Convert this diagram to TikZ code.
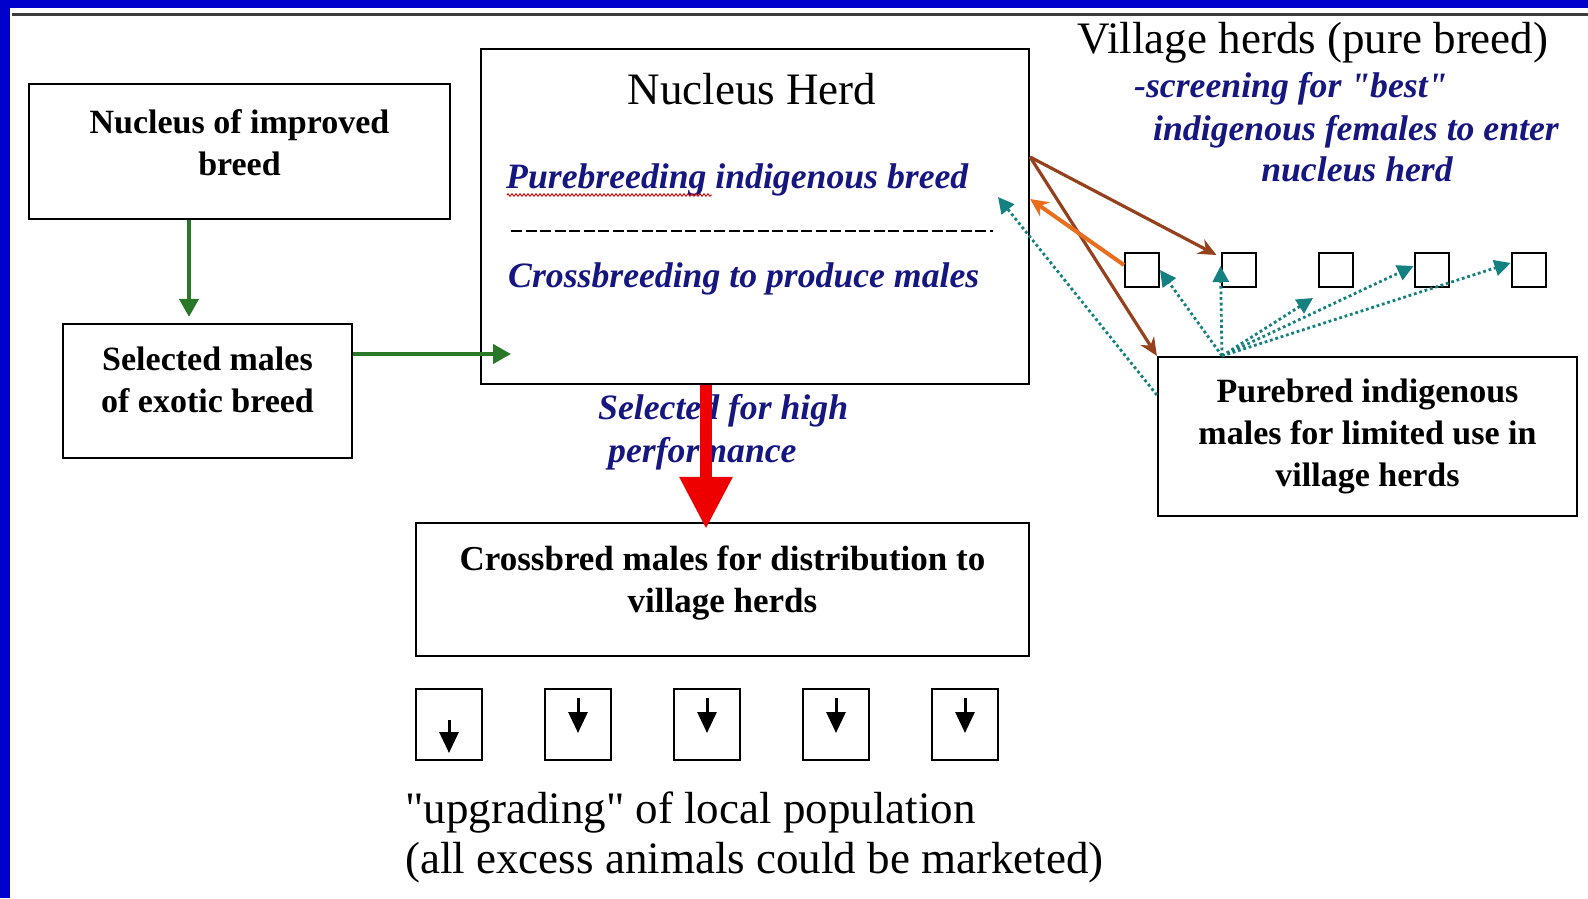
\documentclass[tikz,border=0pt]{standalone}
\usepackage{fontspec}
\setmainfont{Liberation Serif}[Ligatures=TeXOff]
\usetikzlibrary{arrows.meta,decorations.pathmorphing,calc}
\definecolor{frameblue}{RGB}{0,0,204}
\definecolor{navy}{RGB}{22,22,128}
\definecolor{dgreen}{RGB}{40,120,40}
\definecolor{redarrow}{RGB}{238,0,0}
\definecolor{brownarrow}{RGB}{150,65,30}
\definecolor{orangearrow}{RGB}{232,110,30}
\definecolor{tealarrow}{RGB}{20,128,128}
\definecolor{topline}{RGB}{60,60,60}
\newcommand\dgBoxFont{\bfseries\fontsize{34}{42}\selectfont}
\newcommand\dgHeadFont{\fontsize{45}{50}\selectfont}
\newcommand\dgBlueFont{\bfseries\itshape\fontsize{35.7}{42}\selectfont\color{navy}}
\begin{document}
\begin{tikzpicture}[x=1pt,y=-1pt,
  box/.style={draw=black, line width=2.2pt, inner sep=0pt, align=center, font=\dgBoxFont},
  sq/.style={draw=black, line width=2pt, minimum width=34pt, minimum height=34pt, inner sep=0pt},
  pen/.style={draw=black, line width=2.2pt, minimum width=66pt, minimum height=71pt, inner sep=0pt},
  head/.style={font=\dgHeadFont, inner sep=0pt, anchor=base},
  bluetext/.style={font=\dgBlueFont, inner sep=0pt, anchor=base west},
  garrow/.style={draw=dgreen, line width=4pt, -{Triangle[width=19pt,length=18pt]}},
  rarrow/.style={draw=redarrow, line width=12pt, -{Triangle[width=50pt,length=52pt]}},
  brarrow/.style={draw=brownarrow, line width=3.2pt, -{Stealth[width=16pt,length=18pt]}},
  orarrow/.style={draw=orangearrow, line width=4pt, -{Stealth[width=17pt,length=18pt]}},
  tarrow/.style={draw=tealarrow, line width=2.8pt, dash pattern=on 2.8pt off 2.8pt, -{Triangle[width=16pt,length=16pt]}},
  darrow/.style={draw=black, line width=3pt, -{Triangle[width=19pt,length=21pt]}},
]
\useasboundingbox (0,0) rectangle (1588,898);
\fill[white] (0,0) rectangle (1588,898);
% frame
\fill[frameblue] (0,0) rectangle (1588,8);
\fill[frameblue] (0,0) rectangle (10,898);
\draw[topline, line width=3pt] (12,14) -- (1588,14);

% boxes
\node[box, minimum width=421pt, minimum height=135pt, text depth=18pt] (b1) at (239.5,151.5) {Nucleus of improved\\breed};
\node[box, minimum width=289pt, minimum height=134pt, text depth=23pt] (sel) at (207.5,391) {Selected males\\of exotic breed};
\node[box, minimum width=548pt, minimum height=335pt] (herd) at (755,216.5) {};
\node[box, font=\bfseries\fontsize{35}{42}\selectfont, minimum width=613pt, minimum height=133pt, text depth=21pt] (cross) at (722.5,589.5) {Crossbred males for distribution to\\village herds};
\node[box, minimum width=419pt, minimum height=159pt] (pure) at (1367.5,436.5) {Purebred indigenous\\males for limited use in\\village herds};

% nucleus herd contents
\node[head] (nhT) at (752,104) {Nucleus Herd};
\node[bluetext] (pb) at (506,188) {Purebreeding indigenous breed};
\draw[red!85!black, line width=0.9pt, decorate, decoration={zigzag, segment length=4pt, amplitude=1.3pt}] (507,195) -- (712,195);
\draw[black, line width=2pt, dash pattern=on 11pt off 3.5pt] (511,231) -- (993,231);
\node[bluetext] (cb) at (508,287) {Crossbreeding to produce males};

% village herds
\node[head] (vh) at (1313,53) {Village herds (pure breed)};
\node[bluetext] (sc1) at (1134,97) {-screening for "best"};
\node[bluetext, anchor=base] (sc2) at (1356,140) {indigenous females to enter};
\node[bluetext, anchor=base] (sc3) at (1357,181) {nucleus herd};

\node[sq] (s1) at (1142,270) {};
\node[sq] (s2) at (1238.5,270) {};
\node[sq] (s3) at (1335.5,270) {};
\node[sq] (s4) at (1431.5,270) {};
\node[sq] (s5) at (1528.5,270) {};

% selected for high performance
\node[bluetext] (sh1) at (598,419) {Selected for high};
\node[bluetext] (sh2) at (608,462) {performance};

% bottom herds
\node[pen] (p1) at (449,724.5) {};
\node[pen] (p2) at (578,724.5) {};
\node[pen] (p3) at (707,724.5) {};
\node[pen] (p4) at (836,724.5) {};
\node[pen] (p5) at (965,724.5) {};
\draw[darrow] ([yshift=4.5pt]p1.center) -- ([yshift=-28.5pt]p1.center);
\draw[darrow] ([yshift=26.5pt]p2.center) -- ([yshift=-8.5pt]p2.center);
\draw[darrow] ([yshift=26.5pt]p3.center) -- ([yshift=-8.5pt]p3.center);
\draw[darrow] ([yshift=26.5pt]p4.center) -- ([yshift=-8.5pt]p4.center);
\draw[darrow] ([yshift=26.5pt]p5.center) -- ([yshift=-8.5pt]p5.center);

\node[head, anchor=base west] (up1) at (405,823) {"upgrading" of local population};
\node[head, anchor=base west] (up2) at (405,873) {(all excess animals could be marketed)};

% connectors
\coordinate (gx) at (189,0);
\coordinate (gend) at (511,354);
\coordinate (rx) at (706,0);
\draw[garrow, shorten >=6pt] (b1.south -| gx) -- (sel.north -| gx);
\draw[garrow] ([yshift=37pt]sel.east) -- (gend);
\draw[rarrow, shorten >=-7pt] (herd.south -| rx) -- (cross.north -| rx);

\coordinate (bo) at ([yshift=59.5pt]herd.east);
\draw[brarrow] (bo) -- ([xshift=-4pt,yshift=-3pt]s2.north west);
\draw[brarrow] (bo) -- (pure.north west);
\draw[orarrow] ([yshift=5pt]s1.west) -- ([yshift=17.5pt]herd.east);

\coordinate (to) at ([xshift=-145.5pt]pure.north);
\coordinate (tm) at (1313,298);
\coordinate (tl) at (998,197);
\draw[tarrow] (to) -- (s1.east);
\draw[tarrow] (to) -- ([yshift=4pt]s2.west);
\draw[tarrow] (to) -- (tm);
\draw[tarrow] (to) -- ([yshift=4pt]s4.west);
\draw[tarrow] (to) -- ([yshift=7pt]s5.west);
\draw[tarrow] ([yshift=41.5pt]pure.west) -- (tl);
\end{tikzpicture}
\end{document}
